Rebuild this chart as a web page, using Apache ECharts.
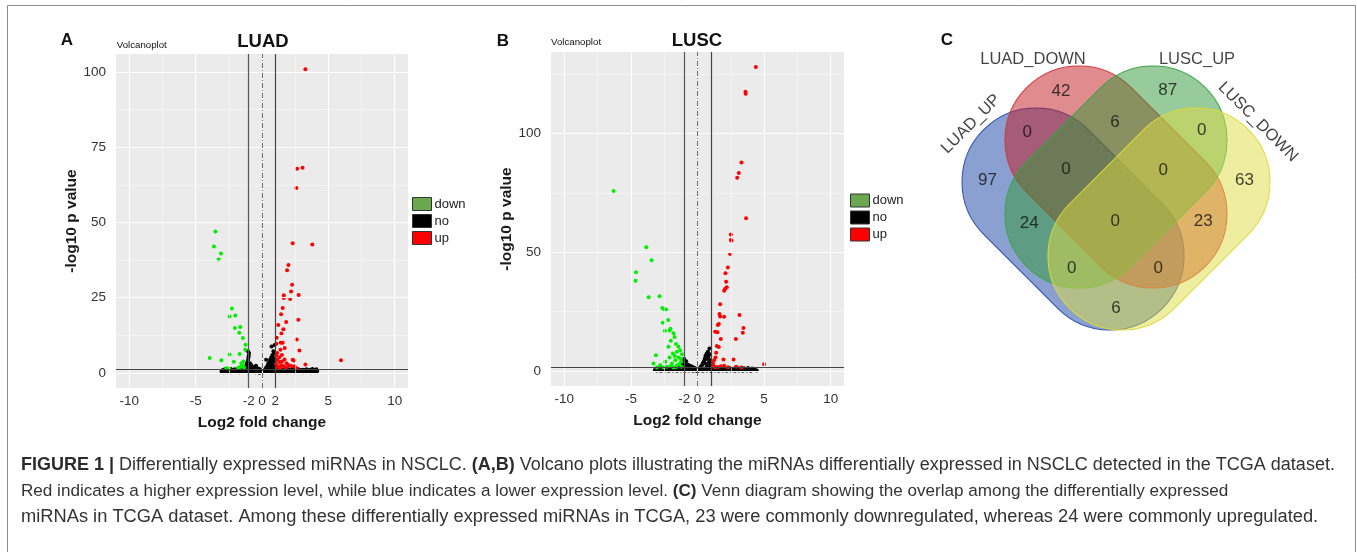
<!DOCTYPE html>
<html><head><meta charset="utf-8">
<script src="https://cdn.jsdelivr.net/npm/echarts@6/dist/echarts.min.js"></script>
<style>html,body{margin:0;padding:0;background:#fff}#c{width:1357px;height:552px}</style>
</head><body><div id="c"></div>
<script>
// ---------------- DATA ----------------
// Panel A (LUAD): [log2FC, -log10 p]
const luadUp = [[3.27,100.9],[2.64,67.9],[3.06,68.2],[2.59,61.5],[2.31,43.1],[3.79,42.7],[1.99,35.9],[1.89,34.1],[2.27,29.3],[2.19,27.1],[1.64,25.8],[1.64,24.9],[2.76,25.9],[2.12,24.6],[1.56,21.6],[1.44,19.5],[2.74,17.7],[1.82,16.9],[1.22,15.9],[1.61,14.5],[1.46,13.1],[1.11,11.7],[2.61,11.1],[1.41,10.0],[1.56,10.0],[1.09,9.7],[1.71,8.3],[1.39,7.7],[2.82,7.5],[1.14,6.6],[1.06,5.8],[1.3,5.2],[1.5,6.0],[2.31,4.4],[2.4,4.1],[3.27,2.8],[5.95,4.2],[1.15,4.5],[1.3,3.6],[1.5,3.8],[1.7,4.5],[1.85,3.2],[2.0,2.6],[1.45,2.6],[1.2,2.2],[1.65,2.2],[2.2,2.3],[2.45,2.2],[1.1,1.8],[1.35,1.6],[1.8,1.7],[2.6,1.6],[1.05,3.0]];
const luadDown = [[-3.51,47.0],[-3.62,42.0],[-3.09,39.7],[-3.27,37.7],[-2.27,21.4],[-2.44,18.8],[-2.01,19.1],[-2.04,14.9],[-1.64,15.3],[-1.71,13.4],[-1.44,11.6],[-1.24,9.4],[-1.26,7.7],[-1.69,6.3],[-2.44,6.1],[-3.94,5.0],[-3.06,4.2],[-2.12,3.7],[-1.55,3.2],[-1.45,2.5],[-1.65,2.0],[-1.4,3.8],[-2.5,1.5],[-2.69,1.6],[-1.8,1.7],[-1.35,1.8]];
const luadNo = [[-3.05,0.5],[-2.9,0.2],[-2.75,0.6],[-2.6,0.3],[-2.45,0.5],[-2.3,0.2],[-2.15,0.6],[-2.0,0.3],[-1.85,0.5],[-1.7,0.2],[-1.55,0.6],[-1.4,0.3],[-1.25,0.5],[-1.1,0.2],[-0.95,0.6],[-0.8,0.3],[-0.65,0.5],[-0.5,0.2],[-0.35,0.4],[-0.2,0.1],[-0.05,0.3],[0.1,0.2],[0.25,0.5],[0.4,0.3],[0.55,0.6],[0.7,0.2],[0.85,0.5],[1.0,0.3],[1.15,0.6],[1.3,0.2],[1.45,0.5],[1.6,0.3],[1.75,0.6],[1.9,0.2],[2.05,0.5],[2.2,0.3],[2.35,0.6],[2.5,0.2],[2.65,0.5],[2.8,0.3],[2.95,0.6],[3.1,0.2],[3.25,0.5],[3.4,0.3],[3.55,0.6],[3.7,0.2],[3.85,0.5],[4.0,0.3],[4.15,0.6],
  [-2.95,1.0],[-2.8,1.2],[-2.65,0.9],[-2.5,1.1],[-2.35,1.3],[-2.2,1.0],[-2.05,1.2],[-1.9,0.9],[-1.75,1.3],[-1.6,1.1],[-1.45,1.4],[-1.3,1.0],[-1.15,1.5],[-1.0,1.2],[-0.85,1.0],[-0.7,1.3],[-0.55,0.9],[-0.4,1.1],[-0.25,0.8],[0.2,0.9],[0.35,1.2],[0.5,1.0],[0.65,1.4],[0.8,1.1],[0.95,1.5],[1.1,1.2],[1.25,1.0],[1.4,1.3],[1.55,1.1],[1.7,1.4],[1.85,1.0],[2.0,1.2],[2.15,0.9],[2.3,1.3],[2.45,1.1],[2.6,1.0],[2.75,1.2],[2.9,0.9],[3.05,1.1],[3.2,1.0],[3.35,1.2],[3.5,0.9],[3.65,1.1],[3.8,1.3],[3.95,1.0],[4.1,1.2],
  [-1.3,1.9],[-1.2,2.4],[-1.15,3.0],[-1.1,3.6],[-1.05,4.3],[-1.02,5.1],[-1.0,5.8],[-0.98,6.6],[-1.06,7.2],[-1.08,2.8],[-0.95,2.2],[-0.9,3.2],[-0.85,1.8],[-0.8,2.6],[-0.7,2.0],[-0.6,1.6],[-0.5,1.8],[-0.45,2.4],[-0.3,1.5],[-0.15,1.2],[0.05,0.9],[0.3,1.7],[0.31,4.4],[0.4,2.2],[0.45,2.8],[0.5,3.3],[0.55,2.5],[0.6,3.8],[0.62,4.5],[0.65,3.0],[0.7,5.2],[0.72,8.8],[0.75,4.2],[0.78,6.0],[0.8,3.4],[0.85,5.0],[0.86,7.2],[0.9,2.8],[0.92,6.4],[0.95,9.3],[0.97,4.0],[1.0,2.2],[0.82,2.0],[0.68,2.2]];

// Panel B (LUSC)
const luscUp = [[4.38,128.1],[3.6,117.6],[3.62,116.8],[3.3,87.8],[3.1,83.4],[2.98,81.4],[3.65,64.3],[2.5,57.5],[2.5,55.1],[2.55,54.9],[2.45,49.2],[2.28,43.6],[2.1,41.1],[2.15,37.6],[2.2,35.2],[2.08,34.6],[2.0,33.8],[1.7,28.1],[1.65,23.9],[1.7,22.9],[2.0,22.8],[3.15,23.5],[1.6,19.7],[1.53,19.3],[3.45,18.1],[3.4,16.0],[1.33,16.5],[1.5,16.3],[1.75,13.4],[2.88,13.4],[1.45,10.5],[1.6,10.0],[1.4,7.6],[1.35,5.6],[1.25,4.5],[1.95,4.8],[2.7,4.8],[1.2,2.4],[1.5,1.6],[1.75,1.9],[2.0,2.1],[2.3,1.5],[2.9,1.7],[3.3,1.4],[5.0,2.8],[1.15,3.3],[1.3,1.5]];
const luscDown = [[-6.3,75.8],[-3.85,52.1],[-3.45,46.6],[-4.62,41.5],[-4.65,38.0],[-3.67,31.0],[-2.85,31.4],[-2.65,26.5],[-2.5,25.9],[-2.35,25.8],[-2.2,21.4],[-2.6,20.3],[-2.03,17.7],[-2.1,17.0],[-2.45,16.9],[-1.8,15.8],[-1.72,14.3],[-2.0,12.7],[-1.62,11.3],[-1.43,10.1],[-2.18,10.1],[-1.3,8.7],[-1.55,8.0],[-1.85,7.3],[-1.17,7.0],[-2.1,5.6],[-1.43,5.6],[-1.67,4.5],[-1.22,3.8],[-2.42,3.8],[-1.92,3.1],[-2.8,2.4],[-1.55,2.4],[-2.3,1.7],[-3.05,1.4],[-1.8,1.4],[-1.2,1.7],[-2.55,1.4],[-3.12,6.6],[-3.3,3.1],[-1.35,2.9],[-1.7,6.2],[-2.0,2.0],[-1.25,5.0],[-1.6,1.6]];
const luscNo = [[-3.2,0.3],[-3.05,0.1],[-2.9,0.4],[-2.75,0.0],[-2.6,0.3],[-2.45,0.1],[-2.3,0.4],[-2.15,0.0],[-2.0,0.3],[-1.85,0.1],[-1.7,0.4],[-1.55,0.0],[-1.4,0.3],[-1.25,0.1],[-1.1,0.4],[-0.95,0.0],[-0.8,0.3],[-0.65,0.1],[-0.5,0.4],[-0.35,0.0],[-0.2,0.2],[-0.05,-0.1],[0.1,0.1],[0.25,0.3],[0.4,0.0],[0.55,0.4],[0.7,0.1],[0.85,0.3],[1.0,0.0],[1.15,0.4],[1.3,0.1],[1.45,0.3],[1.6,0.0],[1.75,0.4],[1.9,0.1],[2.05,0.3],[2.2,0.0],[2.35,0.4],[2.5,0.1],[2.65,0.3],[2.8,0.0],[2.95,0.4],[3.1,0.1],[3.25,0.3],[3.4,0.0],[3.55,0.4],[3.7,0.1],[3.85,0.3],[4.0,0.0],[4.2,0.3],[4.45,0.1],
  [-3.1,0.8],[-2.95,1.0],[-2.8,0.7],[-2.65,1.1],[-2.5,0.8],[-2.35,1.2],[-2.2,0.9],[-2.05,1.1],[-1.9,0.7],[-1.75,1.2],[-1.6,0.9],[-1.45,1.3],[-1.3,0.8],[-1.15,1.2],[-1.0,0.9],[-0.85,1.3],[-0.7,0.8],[-0.55,1.1],[-0.4,0.7],[-0.25,0.9],[0.2,0.8],[0.35,1.1],[0.5,0.8],[0.65,1.3],[0.8,0.9],[0.95,1.2],[1.1,0.8],[1.25,1.1],[1.4,0.7],[1.55,1.0],[1.7,0.8],[1.85,1.1],[2.0,0.7],[2.15,1.0],[2.3,0.8],[2.45,1.1],[2.6,0.7],[2.75,1.0],[2.9,0.8],[3.05,1.1],[3.2,0.7],[3.35,0.9],[3.5,1.1],[3.65,0.8],[3.8,1.2],[3.95,0.7],[4.1,1.0],[4.3,0.8],
  [-1.25,1.9],[-1.15,2.6],[-1.1,3.4],[-1.05,4.2],[-1.0,5.0],[-0.95,3.0],[-0.9,2.2],[-0.85,4.0],[-0.8,1.8],[-0.7,2.6],[-0.6,1.7],[-0.5,2.0],[-0.35,1.6],[-0.2,1.2],[0.1,1.0],[0.25,1.8],[0.35,2.6],[0.42,3.4],[0.5,4.2],[0.55,5.2],[0.6,6.3],[0.62,3.0],[0.68,7.2],[0.72,5.0],[0.78,8.0],[0.82,6.0],[0.86,3.6],[0.9,9.4],[0.93,7.0],[0.96,4.6],[0.98,2.4],[0.75,2.0]];

const xTickValues = [-10, -5, -1, 0, 1, 5, 10];
const xTickLabels = ['-10', '-5', '-2', '0', '2', '5', '10'];
const yTickValuesA = [0, 25, 50, 75, 100];
const yTickValuesB = [0, 50, 100];
const xGridMajor = [-10, -5, 0, 5, 10];
const xGridMinor = [-7.5, -2.5, 2.5, 7.5];
const yGridMajorA = [0, 25, 50, 75, 100];
const yGridMinorA = [12.5, 37.5, 62.5, 87.5];
const yGridMajorB = [0, 50, 100];
const yGridMinorB = [25, 75, 125];
const fcThreshold = [-1, 1];
const pThreshold = 1.3;
const groupNames = ['down', 'no', 'up'];

// Venn (C)
const vennSetNames = ['LUAD_UP', 'LUAD_DOWN', 'LUSC_UP', 'LUSC_DOWN'];
const vennRegionKeys = ['A','B','C','D','AB','BC','CD','ABC','BCD','AC','ABCD','BD','ACD','ABD','AD'];
const vennCounts    = [97, 42, 87, 63, 0, 6, 0, 0, 0, 24, 0, 23, 0, 0, 6];

// ---------------- LAYOUT ----------------
const FONT = '"Liberation Sans", Arial, Helvetica, sans-serif';
const vennShapeLayout = [ // cx, cy, rotation(deg) in unit square
  [0.3806, 0.4472, -45], [0.5, 0.5639, -45], [0.5, 0.5639, 45], [0.6194, 0.4472, 45]];
const vennLen = 0.702, vennWid = 0.411;
const vennFill = ['rgba(21,65,161,0.5)','rgba(193,23,29,0.5)','rgba(49,151,55,0.5)','rgba(221,219,65,0.5)'];
const vennStroke = ['#2d4fb2','#d2343c','#3aa444','#dedb3a'];
const vennRegionPos = {A:[0.143,0.5556],B:[0.3472,0.8008],C:[0.6436,0.8056],D:[0.857,0.5556],AB:[0.2536,0.6869],BC:[0.4972,0.7147],CD:[0.7381,0.6944],ABC:[0.3611,0.5853],BCD:[0.6314,0.5833],AC:[0.2592,0.4353],ABCD:[0.4981,0.4397],BD:[0.7425,0.4397],ACD:[0.3769,0.3103],ABD:[0.6175,0.3103],AD:[0.5,0.1992]};
const vennSetLabelPos = [[0.0972,0.7111,45],[0.2694,0.8917,0],[0.725,0.8917,0],[0.8944,0.7167,-45]];

const chart = echarts.init(document.getElementById('c'), null, {renderer: 'canvas'});

function xAxisFor(i) {
  return {gridIndex: i, type: 'value', min: -11, max: 11,
    name: 'Log2 fold change', nameLocation: 'middle', nameGap: 27,
    nameTextStyle: {fontWeight: 'bold', fontSize: 15.5, color: '#1a1a1a', fontFamily: FONT},
    axisLine: {show: false},
    axisTick: {show: true, customValues: xTickValues, length: 3, lineStyle: {color: '#333'}},
    axisLabel: {customValues: xTickValues, margin: 6, fontSize: 13.5, color: '#333', fontFamily: FONT,
      formatter: v => xTickLabels[xTickValues.indexOf(v)] ?? ''},
    splitLine: {show: false}};
}
function yAxisFor(i, min, max, ticks, gap) {
  return {gridIndex: i, type: 'value', min: min, max: max,
    name: '-log10 p value', nameLocation: 'middle', nameGap: gap,
    nameTextStyle: {fontWeight: 'bold', fontSize: 15.5, color: '#1a1a1a', fontFamily: FONT},
    axisLine: {show: false},
    axisTick: {show: true, customValues: ticks, length: 3, lineStyle: {color: '#333'}},
    axisLabel: {customValues: ticks, margin: 10, fontSize: 13.5, color: '#333', fontFamily: FONT},
    splitLine: {show: false}};
}
function gridSeries(i, yMaj, yMin) {
  const d = [];
  xGridMinor.forEach(v => d.push({xAxis: v, lineStyle: {color: '#fafafa', width: 0.6, type: 'solid'}}));
  yMin.forEach(v => d.push({yAxis: v, lineStyle: {color: '#fafafa', width: 0.6, type: 'solid'}}));
  xGridMajor.forEach(v => d.push({xAxis: v, lineStyle: {color: '#ffffff', width: 1.1, type: 'solid'}}));
  yMaj.forEach(v => d.push({yAxis: v, lineStyle: {color: '#ffffff', width: 1.1, type: 'solid'}}));
  return {type: 'line', xAxisIndex: i, yAxisIndex: i, data: [], silent: true, z: 1,
    markLine: {silent: true, symbol: 'none', label: {show: false}, animation: false, data: d}};
}
function thresholdSeries(i) {
  return {type: 'line', xAxisIndex: i, yAxisIndex: i, data: [], silent: true, z: 6,
    markLine: {silent: true, symbol: 'none', label: {show: false}, animation: false, data: [
      {xAxis: fcThreshold[0], lineStyle: {color: '#555', width: 1.2, type: 'solid'}},
      {xAxis: fcThreshold[1], lineStyle: {color: '#444', width: 1.2, type: 'solid'}},
      {xAxis: 0, lineStyle: {color: '#444', width: 0.8, type: [5, 2, 1, 2]}},
      {yAxis: pThreshold, lineStyle: {color: '#444', width: 1, type: 'solid'}}]}};
}
function pts(i, name, data, color, z) {
  return {type: 'scatter', name: name, xAxisIndex: i, yAxisIndex: i, data: data, symbol: 'circle',
    symbolSize: 4, itemStyle: {color: color, opacity: 1}, z: z, silent: true};
}

const legendData = [
  {name: 'down', itemStyle: {color: '#6aa84f', borderColor: '#333', borderWidth: 1, opacity: 1}},
  {name: 'no', itemStyle: {color: '#000', borderColor: '#333', borderWidth: 1, opacity: 1}},
  {name: 'up', itemStyle: {color: '#ff0000', borderColor: '#333', borderWidth: 1, opacity: 1}}];
function legendAt(left, top) {
  return {left: left, top: top, orient: 'vertical', itemWidth: 19, itemHeight: 13, itemGap: 3, padding: 0,
    icon: 'rect', selectedMode: false, data: legendData,
    textStyle: {fontSize: 13, color: '#222', fontFamily: FONT, lineHeight: 13, padding: [0, 0, 0, -2]}};
}

const vennShapes = vennShapeLayout.map(s => [s[0], s[1], vennLen, vennWid, s[2]]);
const vennNumberLabels = vennRegionKeys.map((k, idx) => ({value: vennRegionPos[k], label: {formatter: String(vennCounts[idx])}}));
const vennNameLabels = vennSetNames.map((n, idx) => ({value: [vennSetLabelPos[idx][0], vennSetLabelPos[idx][1]],
  label: {formatter: n, rotate: vennSetLabelPos[idx][2]}}));

function txt(x, y, text, size, weight, align) {
  return {type: 'text', x: x, y: y, silent: true,
    style: {text: text, fontSize: size, fontWeight: weight || 'normal', fontFamily: FONT, fill: '#111',
      align: align || 'center', verticalAlign: 'middle'}};
}
function cap(y, text, size) {
  return {type: 'text', x: 21, y: y, silent: true,
    style: {text: text, rich: {b: {fontWeight: 'bold', fontSize: size, fontFamily: FONT, fill: '#2b2b2b'}},
      fontSize: size, fontFamily: FONT, fill: '#333', align: 'left', verticalAlign: 'middle'}};
}

const option = {
  backgroundColor: '#ffffff',
  animation: false,
  grid: [
    {left: 116, top: 54, width: 292, height: 334, show: true, backgroundColor: '#ebebeb', borderWidth: 0},
    {left: 551, top: 52, width: 293, height: 334, show: true, backgroundColor: '#ebebeb', borderWidth: 0},
    {left: 936, top: 20, width: 360, height: 360, show: false}],
  xAxis: [xAxisFor(0), xAxisFor(1), {gridIndex: 2, type: 'value', min: 0, max: 1, show: false}],
  yAxis: [yAxisFor(0, -5, 106, yTickValuesA, 29), yAxisFor(1, -6.4, 134.4, yTickValuesB, 35),
          {gridIndex: 2, type: 'value', min: 0, max: 1, show: false}],
  legend: [legendAt(412, 197), legendAt(850, 193.5)],
  series: [
    gridSeries(0, yGridMajorA, yGridMinorA),
    pts(0, groupNames[1], luadNo, '#000000', 2),
    pts(0, groupNames[0], luadDown, '#00ee00', 3),
    pts(0, groupNames[2], luadUp, '#ff0000', 3),
    thresholdSeries(0),
    gridSeries(1, yGridMajorB, yGridMinorB),
    pts(1, groupNames[1], luscNo, '#000000', 2),
    pts(1, groupNames[0], luscDown, '#00ee00', 3),
    pts(1, groupNames[2], luscUp, '#ff0000', 3),
    thresholdSeries(1),
    {type: 'custom', xAxisIndex: 2, yAxisIndex: 2, data: vennShapes, clip: false, silent: true, z: 2,
      encode: {x: 0, y: 1},
      renderItem: function (params, api) {
        const c = api.coord([api.value(0), api.value(1)]);
        const s = api.size([api.value(2), api.value(3)]);
        const L = s[0], W = s[1];
        return {type: 'rect', x: c[0], y: c[1], rotation: api.value(4) * Math.PI / 180,
          shape: {x: -L / 2, y: -W / 2, width: L, height: W, r: W / 2},
          style: {fill: vennFill[params.dataIndex], stroke: vennStroke[params.dataIndex], lineWidth: 1}};
      }},
    {type: 'scatter', xAxisIndex: 2, yAxisIndex: 2, data: vennNumberLabels, symbolSize: 0, silent: true, z: 5,
      itemStyle: {color: 'rgba(0,0,0,0)'},
      label: {show: true, position: 'inside', fontSize: 17, color: '#111', fontFamily: FONT}},
    {type: 'scatter', xAxisIndex: 2, yAxisIndex: 2, data: vennNameLabels, symbolSize: 0, silent: true, z: 5,
      itemStyle: {color: 'rgba(0,0,0,0)'},
      label: {show: true, position: 'inside', fontSize: 16.5, color: '#111', fontFamily: FONT}}
  ],
  graphic: [
    {type: 'rect', silent: true, shape: {x: 7.5, y: 5.5, width: 1348, height: 600},
      style: {fill: 'none', stroke: '#8c8c8c', lineWidth: 1}},
    txt(67, 40, 'A', 17, 'bold'),
    txt(116.7, 45.7, 'Volcanoplot', 9.7, 'normal', 'left'),
    txt(263, 41.5, 'LUAD', 18.5, 'bold'),
    txt(503, 41, 'B', 17, 'bold'),
    txt(551, 42.3, 'Volcanoplot', 9.7, 'normal', 'left'),
    txt(697, 41, 'LUSC', 18.5, 'bold'),
    txt(947, 40, 'C', 17, 'bold'),
    cap(465, '{b|FIGURE 1 |} Differentially expressed miRNAs in NSCLC. {b|(A,B)} Volcano plots illustrating the miRNAs differentially expressed in NSCLC detected in the TCGA dataset.', 18),
    cap(491, 'Red indicates a higher expression level, while blue indicates a lower expression level. {b|(C)} Venn diagram showing the overlap among the differentially expressed', 17.1),
    cap(517, 'miRNAs in TCGA dataset. Among these differentially expressed miRNAs in TCGA, 23 were commonly downregulated, whereas 24 were commonly upregulated.', 18.3)
  ]
};
chart.setOption(option);
</script></body></html>
